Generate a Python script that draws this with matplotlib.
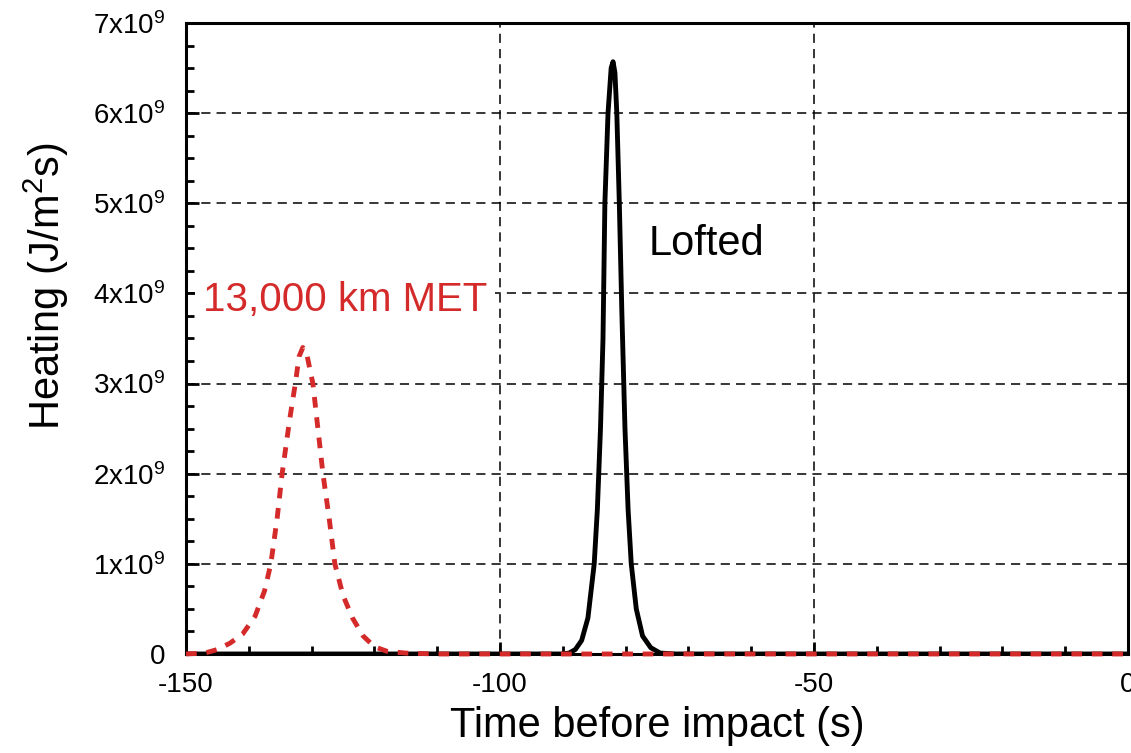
import matplotlib
matplotlib.use("Agg")
import matplotlib.pyplot as plt
from matplotlib.ticker import MultipleLocator, FixedLocator

plt.rcParams['font.family'] = ['Liberation Sans', 'DejaVu Sans']
plt.rcParams['mathtext.default'] = 'regular'

# 13,000 km MET trajectory (red dashed), heating in units of 1e9 J/m^2 s
met_t = [-150, -147, -145, -143, -141, -139, -137.5, -136.5, -135.5, -134.7, -133.5,
         -132.6, -132, -131.4, -130.7, -129.8, -129, -128.2, -127.2, -126.3, -125,
         -123.5, -121.8, -120, -118, -115, -110, 0]
met_q = [0, 0.01, 0.05, 0.12, 0.22, 0.42, 0.7, 1.0, 1.5, 2.0, 2.6,
         3.0, 3.3, 3.4, 3.3, 3.0, 2.5, 2.0, 1.5, 1.0, 0.65,
         0.4, 0.2, 0.08, 0.03, 0.01, 0, 0]

# Lofted trajectory (black solid)
loft_t = [-150, -90, -89, -88, -87, -86, -85, -84.5, -84, -83.6, -83.3, -82.8,
          -82.3, -82, -81.7, -81.4, -81, -80.6, -80.1, -79.6, -79.1, -78.3,
          -77.3, -76, -74.5, -72, 0]
loft_q = [0, 0, 0.01, 0.05, 0.15, 0.4, 1.0, 1.6, 2.5, 3.5, 5.0, 6.0,
          6.5, 6.57, 6.45, 6.0, 5.0, 3.8, 2.5, 1.6, 1.0, 0.5,
          0.2, 0.07, 0.01, 0, 0]

x_ticks = [-150, -100, -50, 0]
y_ticks = [0, 1, 2, 3, 4, 5, 6, 7]
y_labels = ['0'] + ['%dx10$^{9}$' % v for v in y_ticks[1:]]

fig = plt.figure(figsize=(11.31, 7.53), dpi=100)
ax = fig.add_axes([0.1645, 0.1315, 0.8328, 0.838])

ax.plot(loft_t, [q * 1e9 for q in loft_q], color='black', lw=3.5, zorder=3)
# red line on top of the axis spines, like the original
ax.plot(met_t, [q * 1e9 for q in met_q], color='#d42a2a', lw=3.5,
        dashes=(2.2, 2.0), zorder=7, clip_on=False)

ax.set_xlim(-150, 0)
ax.set_ylim(0, 7e9)
ax.xaxis.set_major_locator(FixedLocator(x_ticks))
ax.xaxis.set_minor_locator(MultipleLocator(10))
ax.yaxis.set_major_locator(FixedLocator([v * 1e9 for v in y_ticks]))
ax.yaxis.set_minor_locator(MultipleLocator(0.25e9))
ax.set_xticklabels([str(v) for v in x_ticks])
ax.set_yticklabels(y_labels)

ax.tick_params(which='both', direction='in', top=False, right=False, width=2,
               labelsize=20, colors='black')
ax.tick_params(which='major', length=9)
ax.tick_params(which='minor', length=6)
ax.tick_params(axis='x', which='major', pad=13)
ax.tick_params(axis='y', which='major', pad=15)
for s in ax.spines.values():
    s.set_linewidth(2.2)
    s.set_zorder(6)

ax.grid(True, which='major', color='black', lw=1.1, dashes=(6, 4))

ax.set_xlabel('Time before impact (s)', fontsize=30, labelpad=6)
ax.set_ylabel('Heating (J/m$^{2}$s)', fontsize=30)
ax.yaxis.set_label_coords(-0.122, 0.583)

ax.text(-147.3, 3.93e9, '13,000 km MET', color='#d42a2a', fontsize=29, va='center',
        bbox=dict(boxstyle='square,pad=0.2', facecolor='white', edgecolor='none'), zorder=5)
ax.text(-76.4, 4.55e9, 'Lofted', color='black', fontsize=30, va='center')

fig.savefig('out.png', dpi=100)
